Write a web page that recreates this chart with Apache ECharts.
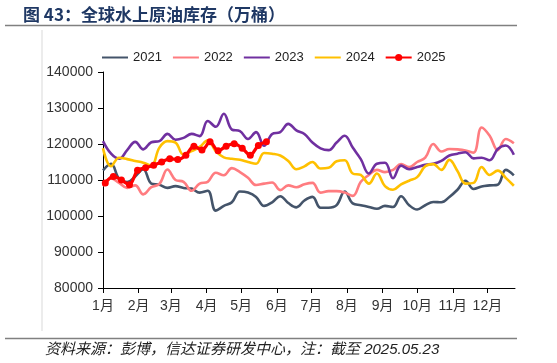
<!DOCTYPE html>
<html><head><meta charset="utf-8">
<script src="https://cdn.jsdelivr.net/npm/echarts@6/dist/echarts.min.js"></script>
<style>html,body{margin:0;padding:0;background:#fff}#c{width:557px;height:363px}</style>
</head><body><div id="c"></div><script>
// Month labels and their start day-of-year
const monthLabels = ['1月','2月','3月','4月','5月','6月','7月','8月','9月','10月','11月','12月'];
const monthStartDays = [0,31,59,90,120,151,181,212,243,273,304,334];
const yTicks = [80000, 90000, 100000, 110000, 120000, 130000, 140000];
const seriesNames = ['2021','2022','2023','2024','2025'];

// Weekly values (万桶)
const v2021 = [112700,114500,110300,109400,111000,113000,109000,108700,107800,108300,107800,107600,106500,107000,101500,102800,103800,106800,106500,105300,102800,103800,105500,103600,102400,104300,105300,102300,102300,103000,106800,103500,103000,102500,102000,102800,102500,105500,103000,101800,103000,103900,103800,105300,107300,109800,107500,108200,108500,108700,112800,111300];
const v2022 = [108300,110400,109200,107800,108500,106000,108000,108900,112900,110000,109500,107000,109000,109500,112000,111300,113300,112200,110600,108600,109000,109300,107200,108500,108000,108800,109200,106500,106900,106900,106500,105600,109500,111400,112800,112200,112800,114400,113600,115000,116200,120000,117900,118600,118500,118200,117600,124600,122300,118300,121400,120200];
const v2023 = [120800,117300,115900,118300,120600,118500,120500,120800,122800,121200,121700,122800,122200,126400,124800,128400,124000,123600,121400,123300,119500,122800,123300,125600,123800,122800,120400,118800,118300,120400,122300,119000,115800,111800,114500,114800,110500,114000,113000,113600,114200,114500,115300,116800,117300,117700,116000,116200,115500,118600,119600,117000];
const v2024 = [118800,113800,116200,115800,115300,114800,114000,119000,120800,120400,117000,118000,119200,121000,118000,116300,115900,115600,115000,114500,117500,117300,116800,115300,113000,113800,115000,113200,113400,115200,115500,111800,111400,109000,111800,108300,107300,108800,109800,110800,113800,114400,112800,115600,112500,109000,109200,113600,111400,112600,110600,108400];
const v2025 = [109200,111000,110000,108700,112700,113400,114100,115000,115900,115700,116900,119400,118300,120600,118100,119400,120100,118800,116900,119600,120600];

// day-of-year of each weekly observation
const weekDays = v2021.map((_, i) => 7 * i);
const days2025 = v2025.map((_, i) => 2 + 7 * i);

const colors = ['#44546A', '#FF7C80', '#7030A0', '#FFC000', '#FF0000'];
const allVals = [v2021, v2022, v2023, v2024];

const chart = echarts.init(document.getElementById('c'), null, {renderer: 'canvas'});
const font = '"Liberation Sans", Arial, "Noto Sans CJK SC"';

const series = allVals.map((vals, k) => ({
  name: seriesNames[k],
  type: 'line',
  data: vals.map((v, i) => [weekDays[i], v]),
  symbol: 'none',
  smooth: 0.4,
  lineStyle: {color: colors[k], width: 2.6},
  itemStyle: {color: colors[k]},
  z: 2 + k
}));
series.push({
  name: seriesNames[4],
  type: 'line',
  data: v2025.map((v, i) => [days2025[i], v]),
  symbol: 'circle',
  symbolSize: 7,
  smooth: 0.3,
  lineStyle: {color: colors[4], width: 3.2},
  itemStyle: {color: colors[4]},
  z: 10
});

chart.setOption({
  animation: false,
  backgroundColor: '#fff',
  grid: {left: 103, right: 42, top: 72, bottom: 75},
  legend: {
    left: 101, top: 51, padding: 0,
    itemWidth: 26, itemHeight: 9, itemGap: 10,
    textStyle: {fontFamily: font, fontSize: 13, color: '#222'},
    data: seriesNames.map((n, k) => k < 4 ? {name: n, itemStyle: {opacity: 0}} : {name: n})
  },
  xAxis: {
    type: 'value', min: 0, max: 358,
    splitLine: {show: false},
    axisLine: {show: true, lineStyle: {color: '#000', width: 1}},
    axisTick: {show: true, length: 5, lineStyle: {color: '#000'}, customValues: monthStartDays},
    axisLabel: {
      customValues: monthStartDays,
      formatter: (v) => monthLabels[monthStartDays.indexOf(v)] || '',
      fontFamily: font, fontSize: 14, color: '#333', margin: 11
    }
  },
  yAxis: {
    type: 'value', min: yTicks[0], max: yTicks[yTicks.length - 1], interval: 10000,
    splitLine: {show: false},
    axisLine: {show: true, lineStyle: {color: '#000', width: 1}},
    axisTick: {show: true, length: 5, lineStyle: {color: '#000'}},
    axisLabel: {fontFamily: font, fontSize: 14, color: '#333', margin: 10, formatter: (v) => String(v)}
  },
  series: series,
  graphic: [
    {type: 'text', x: 23, y: 15, style: {text: '图 43：全球水上原油库存（万桶）', font: 'bold 17px "Noto Sans CJK SC"', fill: '#1F3864', verticalAlign: 'middle'}},
    {type: 'line', shape: {x1: 5, y1: 25.5, x2: 517, y2: 25.5}, style: {stroke: '#808080', lineWidth: 1.5}},
    {type: 'line', shape: {x1: 42, y1: 30, x2: 42, y2: 331}, style: {stroke: '#d9d9d9', lineWidth: 1}},
    {type: 'line', shape: {x1: 5, y1: 338.5, x2: 517, y2: 338.5}, style: {stroke: '#808080', lineWidth: 1.5}},
    {type: 'text', x: 45, y: 350, style: {text: '资料来源：彭博，信达证券研发中心，注：截至 2025.05.23', font: 'italic 15px "Liberation Sans", "Noto Sans CJK SC"', fill: '#222', verticalAlign: 'middle'}}
  ]
});
</script></body></html>
